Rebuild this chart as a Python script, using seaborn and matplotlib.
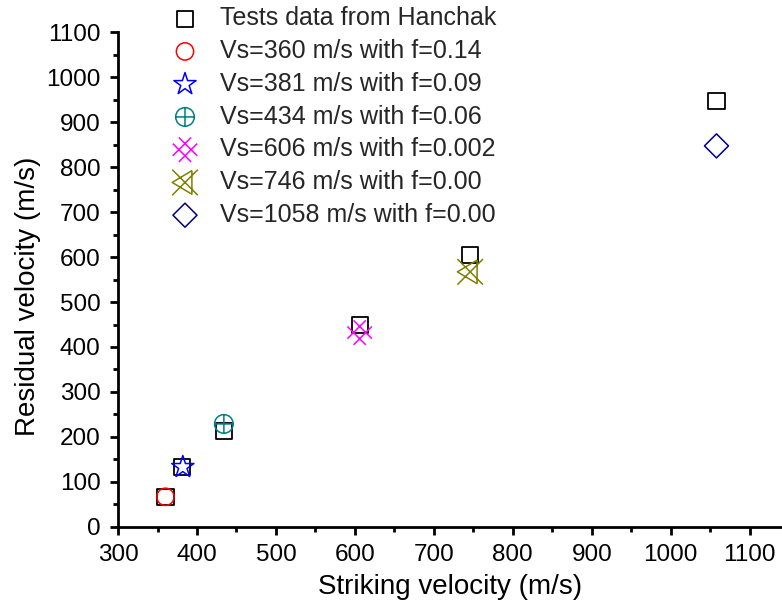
import numpy as np
import pandas as pd
import matplotlib
matplotlib.use("Agg")
import matplotlib.pyplot as plt
from matplotlib.path import Path
import seaborn as sns

# ---- data ----
test_x = [360, 381, 434, 606, 746, 1058]
test_y = [67, 134, 213, 449, 604, 947]

sim_labels = [
    "Vs=360 m/s with f=0.14",
    "Vs=381 m/s with f=0.09",
    "Vs=434 m/s with f=0.06",
    "Vs=606 m/s with f=0.002",
    "Vs=746 m/s with f=0.00",
    "Vs=1058 m/s with f=0.00",
]
sim_x = [360, 382, 434, 606, 746, 1058]
sim_y = [67, 133, 229, 432, 567, 847]
test_label = "Tests data from Hanchak"

x_ticks = [300, 400, 500, 600, 700, 800, 900, 1000, 1100]
y_ticks = [0, 100, 200, 300, 400, 500, 600, 700, 800, 900, 1000, 1100]

# ---- custom markers ----
L = [Path.MOVETO, Path.LINETO]
crossed_circle = Path.make_compound_path(
    Path.unit_circle(),
    Path([[-1, 0], [1, 0]], L),
    Path([[0, -1], [0, 1]], L),
)
double_x = Path.make_compound_path(
    Path([[-1, -0.5], [0.5, 1]], L),
    Path([[-0.5, -1], [1, 0.5]], L),
    Path([[-0.5, 1], [1, -0.5]], L),
    Path([[-1, 0.5], [0.5, -1]], L),
)
x_triangle = Path.make_compound_path(
    Path([[-1, 1], [1, -1]], L),
    Path([[-1, -1], [1, 1]], L),
    Path([[0.54, 0.92], [-1, 0], [0.54, -0.92], [0.54, 0.92]],
         [Path.MOVETO, Path.LINETO, Path.LINETO, Path.LINETO]),
)

styles = [
    dict(marker="o", color="#FF0000", s=155),
    dict(marker="*", color="#0000FF", s=280),
    dict(marker=crossed_circle, color="#008080", s=180),
    dict(marker=double_x, color="#FF00FF", s=310),
    dict(marker=x_triangle, color="#808000", s=340),
    dict(marker="D", color="#000080", s=150),
]

sns.set_theme(style="ticks")
plt.rcParams["font.family"] = ["Liberation Sans", "DejaVu Sans"]

fig = plt.figure(figsize=(7.82, 6.05), dpi=100)
ax = fig.add_axes([0.151, 0.129, 0.848, 0.818])

sns.scatterplot(x=test_x, y=test_y, ax=ax, marker="s", s=135,
                facecolor="none", edgecolor="black", linewidth=1.3,
                label=test_label, zorder=2)
for i, lab in enumerate(sim_labels):
    st = styles[i]
    sns.scatterplot(x=[sim_x[i]], y=[sim_y[i]], ax=ax, marker=st["marker"],
                    s=st["s"], facecolor="none", edgecolor=st["color"],
                    linewidth=1.1, label=lab, zorder=3)

ax.set_xlim(300, 1140)
ax.set_ylim(0, 1100)
ax.set_xticks(x_ticks)
ax.set_yticks(y_ticks)
ax.set_xticks(np.arange(350, 1140, 100), minor=True)
ax.set_yticks(np.arange(50, 1100, 100), minor=True)
ax.tick_params(axis="both", which="major", direction="out", length=6,
               width=2, labelsize=17.5, color="black", labelcolor="black",
               pad=6.5)
ax.tick_params(axis="both", which="minor", direction="out", length=3.5,
               width=2, color="black")
for side in ["top", "right"]:
    ax.spines[side].set_visible(False)
for side in ["left", "bottom"]:
    ax.spines[side].set_linewidth(2)
    ax.spines[side].set_color("black")

ax.set_xlabel("Striking velocity (m/s)", fontsize=20, color="black", labelpad=5.5)
ax.set_ylabel("Residual velocity (m/s)", fontsize=20, color="black")
ax.yaxis.set_label_coords(-0.116, 0.467)

ax.legend_.remove()
handles, labels = ax.get_legend_handles_labels()
fig.legend(handles, labels, loc="upper left", bbox_to_anchor=(0.1966, 1.0),
           frameon=False, fontsize=18, labelspacing=0.35, handletextpad=0.4,
           borderpad=0.25, borderaxespad=0)

fig.savefig("out.png", dpi=100)
